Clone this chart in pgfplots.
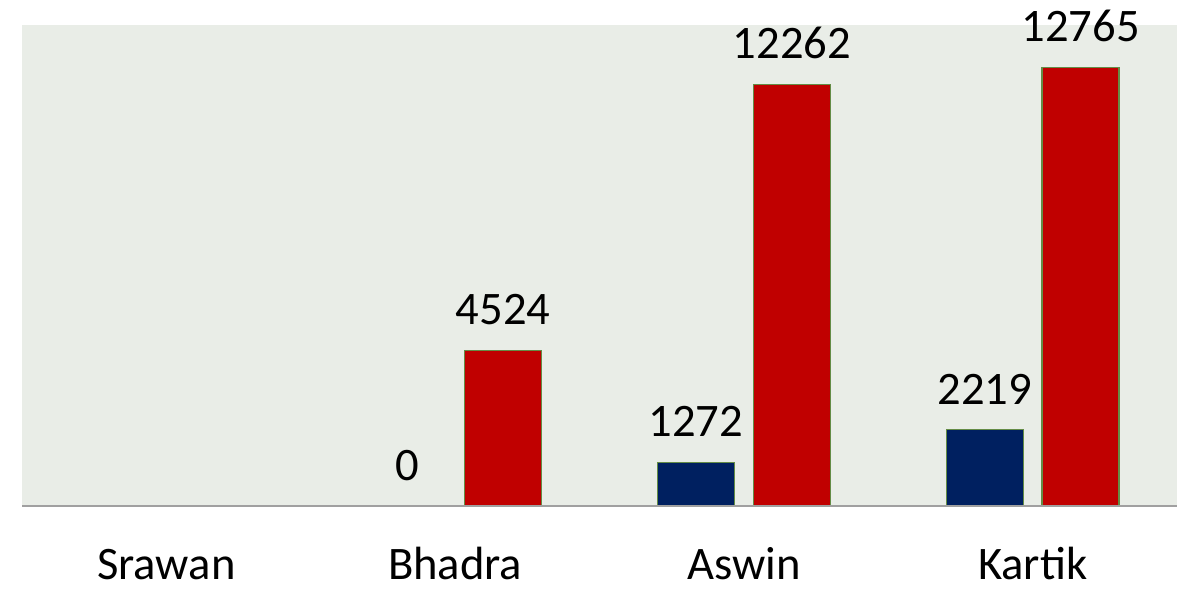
\documentclass[border=0pt]{standalone}
\usepackage{pgfplots}
\pgfplotsset{compat=1.18}
\usepackage{fontspec}
\setmainfont{Carlito}
\definecolor{bgcol}{RGB}{233,237,231}
\definecolor{navy}{RGB}{0,32,96}
\definecolor{darkred}{RGB}{192,0,0}
\definecolor{edgegreen}{RGB}{100,140,70}
\definecolor{axisgrey}{RGB}{160,160,160}
\begin{document}
\begin{tikzpicture}
\useasboundingbox (-11pt,-42pt) rectangle (582pt,253pt);
\begin{axis}[
  at={(0,0)}, anchor=south west,
  scale only axis, width=577.5pt, height=240.5pt,
  xmin=-0.5, xmax=3.5, ymin=0, ymax=13990,
  axis background/.style={fill=bgcol},
  axis on top,
  axis x line*=bottom, axis y line=none,
  x axis line style={-, draw=axisgrey, line width=1pt},
  xtick={0,1,2,3}, xticklabels={Srawan,Bhadra,Aswin,Kartik},
  major tick length=0pt,
  xticklabel style={font=\fontsize{23.3}{28}\selectfont, anchor=north, inner sep=0pt, text height=15pt, yshift=-21.5pt},
  ybar, bar width=0.2667,
  /pgf/number format/assume math mode=true,
  /pgf/number format/1000 sep={},
  nodes near coords,
  every node near coord/.append style={font=\fontsize{23.3}{28}\selectfont, anchor=south, inner sep=0pt, yshift=12.5pt, text=black},
]
\addplot[fill=navy, draw=edgegreen, line width=0.6pt, bar shift=-0.166]
  coordinates {(1,0) (2,1272) (3,2219)};
\addplot[fill=darkred, draw=edgegreen, line width=0.6pt, bar shift=0.166]
  coordinates {(1,4524) (2,12262) (3,12765)};
\end{axis}
\end{tikzpicture}
\end{document}
